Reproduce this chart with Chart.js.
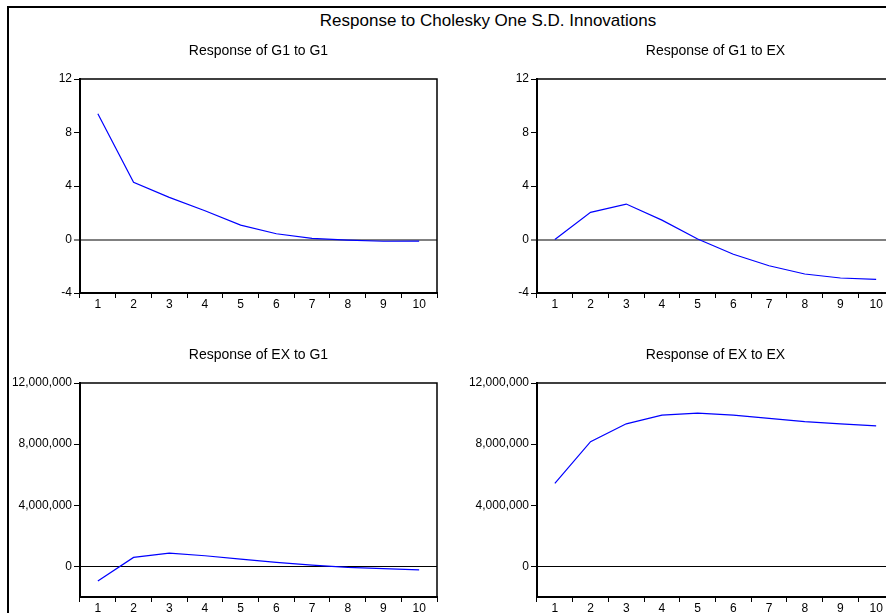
<!DOCTYPE html>
<html>
<head>
<meta charset="utf-8">
<script src="https://cdn.jsdelivr.net/npm/chart.js@4.4.1/dist/chart.umd.min.js"></script>
<style>
  html, body { margin: 0; padding: 0; width: 886px; height: 613px; overflow: hidden; background: #fff; }
  #frame { position: absolute; left: 7px; top: 6px; width: 960px; height: 650px;
           border-left: 2px solid #000; border-top: 2px solid #000; }
  #title { position: absolute; left: 288px; top: 10.5px; width: 400px; text-align: center;
           font: 17px/20px 'Liberation Sans', Arial, sans-serif; color: #000; white-space: nowrap; }
  canvas { position: absolute; }
</style>
</head>
<body>
<div id="frame"></div>
<div id="title">Response to Cholesky One S.D. Innovations</div>
<canvas id="c1"></canvas>
<canvas id="c2"></canvas>
<canvas id="c3"></canvas>
<canvas id="c4"></canvas>
<script>
/* Impulse responses */
const periods = ['1', '2', '3', '4', '5', '6', '7', '8', '9', '10'];
const g1ToG1 = [9.4, 4.27, 3.15, 2.15, 1.08, 0.43, 0.08, -0.05, -0.13, -0.12];
const g1ToEx = [0.0, 2.03, 2.65, 1.45, 0.04, -1.1, -1.96, -2.58, -2.88, -2.98];
const exToG1 = [-950000, 590000, 870000, 700000, 480000, 260000, 90000, -60000, -150000, -220000];
const exToEx = [5440000, 8160000, 9330000, 9900000, 10030000, 9900000, 9690000, 9470000, 9320000, 9190000];

// y tick labels
const g1Ticks = [-4, 0, 4, 8, 12];
const exTicks = [0, 4000000, 8000000, 12000000];

const FONT = "'Liberation Sans', Arial, sans-serif";

// top and right edges of each plot box
const framePlugin = {
  id: 'frame',
  afterDatasetsDraw(chart) {
    const { ctx, chartArea: a } = chart;
    ctx.save();
    ctx.strokeStyle = '#000';
    ctx.lineWidth = 1.5;
    ctx.beginPath();
    ctx.moveTo(a.left, a.top);
    ctx.lineTo(a.right, a.top);
    ctx.lineTo(a.right, a.bottom);
    ctx.stroke();
    ctx.restore();
  }
};

function makePanel(id, box, title, values, yMin, yMax, yTicks, zeroColor, zeroWidth) {
  const canvas = document.getElementById(id);
  canvas.width = box.cw; canvas.height = box.ch;
  canvas.style.left = box.cx + 'px';
  canvas.style.top = box.cy + 'px';

  return new Chart(canvas, {
    type: 'line',
    data: {
      labels: periods,
      datasets: [{
        data: values,
        borderColor: '#0000ff',
        borderWidth: 1.2,
        pointRadius: 0,
        tension: 0,
        fill: false
      }]
    },
    options: {
      responsive: false,
      animation: false,
      devicePixelRatio: 1,
      layout: { padding: { left: 0, top: 0, bottom: 0, right: box.cw - (box.R - box.cx) } },
      plugins: {
        legend: { display: false },
        tooltip: { enabled: false },
        title: {
          display: true,
          fullSize: false,
          text: title,
          color: '#000',
          font: { family: FONT, size: 14, weight: 'normal', lineHeight: 16 / 14 },
          padding: { top: box.titleY - box.cy - 8, bottom: box.T - box.titleY - 8 }
        }
      },
      scales: {
        x: {
          type: 'category',
          offset: true,
          grid: { offset: true, drawOnChartArea: false, drawTicks: true, tickLength: 5, tickColor: '#000', tickWidth: 1 },
          border: { display: true, color: '#000', width: 2 },
          ticks: { color: '#000', font: { family: FONT, size: 12, lineHeight: 1 }, padding: 1, maxRotation: 0, autoSkip: false },
          afterFit: s => { s.height = box.cy + box.ch - box.B; }
        },
        y: {
          min: yMin,
          max: yMax,
          afterBuildTicks: s => { s.ticks = yTicks.map(v => ({ value: v })); },
          grid: {
            drawTicks: true,
            tickLength: 6,
            tickColor: '#000',
            tickWidth: 1,
            color: c => (c.tick && c.tick.value === 0) ? zeroColor : 'rgba(0,0,0,0)',
            lineWidth: c => (c.tick && c.tick.value === 0) ? zeroWidth : 1
          },
          border: { display: true, color: '#000', width: 2 },
          ticks: {
            color: '#000',
            padding: 2,
            font: { family: FONT, size: 12 },
            callback: v => Number(v).toLocaleString('en-US')
          },
          afterFit: s => { s.width = box.L - box.cx; }
        }
      }
    },
    plugins: [framePlugin]
  });
}

const topLeft  = { cx: 0,   cy: 30,  cw: 439, ch: 284, L: 80,  T: 79,  R: 437, B: 293, titleY: 51 };
const topRight = { cx: 443, cy: 30,  cw: 453, ch: 284, L: 537, T: 79,  R: 894, B: 293, titleY: 51 };
const botLeft  = { cx: 0,   cy: 330, cw: 439, ch: 287, L: 80,  T: 383, R: 437, B: 597, titleY: 355.5 };
const botRight = { cx: 443, cy: 330, cw: 453, ch: 287, L: 537, T: 383, R: 894, B: 597, titleY: 355.5 };

makePanel('c1', topLeft,  'Response of G1 to G1', g1ToG1, -4, 12, g1Ticks, '#808080', 2);
makePanel('c2', topRight, 'Response of G1 to EX', g1ToEx, -4, 12, g1Ticks, '#808080', 2);
makePanel('c3', botLeft,  'Response of EX to G1', exToG1, -2000000, 12000000, exTicks, '#000', 1);
makePanel('c4', botRight, 'Response of EX to EX', exToEx, -2000000, 12000000, exTicks, '#000', 1);
</script>
</body>
</html>
